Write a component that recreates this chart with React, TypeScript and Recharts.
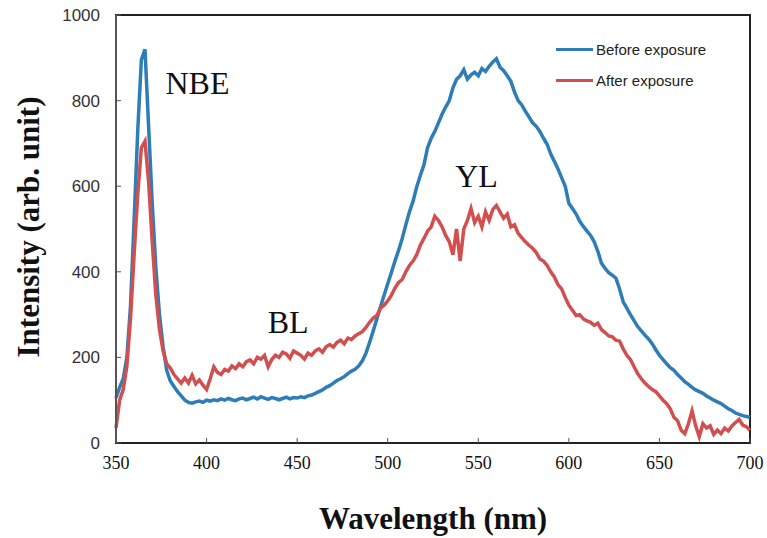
import { LineChart, Line, XAxis, YAxis, Legend, ReferenceDot, ReferenceArea, Label } from 'recharts'

const wavelengths = [
  350, 352, 354, 356, 358, 360, 362, 364, 366, 368, 370, 372, 374, 376, 378, 380, 382, 384, 386, 388,
  390, 392, 394, 396, 398, 400, 402, 404, 406, 408, 410, 412, 414, 416, 418, 420, 422, 424, 426, 428,
  430, 432, 434, 436, 438, 440, 442, 444, 446, 448, 450, 452, 454, 456, 458, 460, 462, 464, 466, 468,
  470, 472, 474, 476, 478, 480, 482, 484, 486, 488, 490, 492, 494, 496, 498, 500, 502, 504, 506, 508,
  510, 512, 514, 516, 518, 520, 522, 524, 526, 528, 530, 532, 534, 536, 538, 540, 542, 544, 546, 548,
  550, 552, 554, 556, 558, 560, 562, 564, 566, 568, 570, 572, 574, 576, 578, 580, 582, 584, 586, 588,
  590, 592, 594, 596, 598, 600, 602, 604, 606, 608, 610, 612, 614, 616, 618, 620, 622, 624, 626, 628,
  630, 632, 634, 636, 638, 640, 642, 644, 646, 648, 650, 652, 654, 656, 658, 660, 662, 664, 666, 668,
  670, 672, 674, 676, 678, 680, 682, 684, 686, 688, 690, 692, 694, 696, 698, 700,
]

const beforeExposure = [
  105, 130, 150, 200, 320, 520, 730, 895, 920, 740, 560, 410, 300, 225, 170, 145, 132, 120, 110, 100,
  95, 93, 96, 98, 95, 100, 98, 101, 99, 103, 100, 104, 101, 99, 103, 105, 101, 104, 107, 103,
  108, 105, 102, 106, 104, 101, 104, 107, 103, 106, 105, 108, 106, 110, 112, 116, 120, 124, 130, 134,
  140, 146, 150, 155, 162, 168, 172, 180, 192, 210, 235, 262, 290, 318, 345, 372, 398, 425, 450, 478,
  510, 540, 565, 598, 625, 650, 690, 712, 728, 748, 768, 785, 800, 830, 850, 858, 872, 850, 860, 866,
  858, 875, 868, 880, 890, 898, 878, 870, 858, 845, 820, 800, 790, 775, 762, 748, 740, 728, 712, 698,
  675, 658, 640, 620, 600, 560, 548, 535, 518, 506, 495, 485, 470, 448, 420, 408, 398, 392, 385, 360,
  330, 315, 300, 286, 272, 262, 252, 243, 232, 218, 205, 195, 185, 176, 170, 160, 152, 143, 137, 130,
  124, 120, 116, 110, 105, 100, 96, 92, 86, 80, 76, 70, 67, 64, 62, 60,
]

const afterExposure = [
  35, 100, 125, 180, 290, 440, 580, 690, 705, 610, 470, 345, 265, 215, 185, 175, 160, 150, 140, 152,
  140, 158, 138, 147, 135, 125, 150, 178, 165, 160, 172, 168, 180, 174, 185, 178, 190, 194, 185, 200,
  196, 205, 178, 195, 205, 200, 212, 208, 198, 215, 210, 205, 196, 210, 205, 215, 220, 212, 225, 230,
  224, 235, 240, 232, 245, 242, 250, 255, 260, 270, 282, 292, 298, 315, 322, 332, 345, 362, 375, 382,
  400, 415, 425, 440, 462, 478, 495, 505, 530, 520, 505, 485, 470, 440, 500, 425, 500, 520, 548, 515,
  530, 505, 540, 520, 545, 555, 540, 525, 535, 505, 510, 490, 480, 470, 462, 455, 445, 430, 425, 415,
  400, 388, 370, 360, 340, 322, 310, 298, 300, 290, 285, 282, 275, 280, 265, 258, 250, 248, 240, 238,
  220, 205, 195, 178, 162, 150, 140, 132, 125, 120, 110, 100, 92, 80, 60, 52, 30, 22, 45, 75,
  40, 15, 45, 35, 40, 20, 30, 22, 35, 28, 40, 48, 55, 42, 38, 30,
]

const xTicks = [350, 400, 450, 500, 550, 600, 650, 700]
const yTicks = [0, 200, 400, 600, 800, 1000]

const peakLabels = [
  { name: 'NBE', w: 395, v: 842 },
  { name: 'BL', w: 445, v: 283 },
  { name: 'YL', w: 549, v: 625 },
]

const BLUE = '#2f7db6'
const RED = '#d24f4f'
const SERIF = '"Liberation Serif", "Times New Roman", serif'
const SANS = '"Liberation Sans", Arial, sans-serif'

const data = wavelengths.map((w, i) => ({
  w,
  before: beforeExposure[i],
  after: afterExposure[i],
}))

function XTick(props: any) {
  const { x, y } = props
  const axisY = y - 8
  return (
    <g>
      <line x1={x} x2={x} y1={axisY} y2={axisY - 5} stroke="#555" strokeWidth={1} />
      <text x={x} y={axisY + 26} textAnchor="middle" fontFamily={SERIF} fontSize={18} fill="#111">
        {props.payload.value}
      </text>
    </g>
  )
}

function YTick(props: any) {
  const { x, y } = props
  const axisX = x + 8
  return (
    <g>
      <line x1={axisX} x2={axisX + 5} y1={y} y2={y} stroke="#555" strokeWidth={1} />
      <text x={axisX - 16} y={y + 6} textAnchor="end" fontFamily={SANS} fontSize={17} fill="#333">
        {props.payload.value}
      </text>
    </g>
  )
}

function LegendBox() {
  const items = [
    { label: 'Before exposure', color: BLUE },
    { label: 'After exposure', color: RED },
  ]
  return (
    <div style={{ fontFamily: SANS, fontSize: 15, color: '#222' }}>
      {items.map((it) => (
        <div key={it.label} style={{ display: 'flex', alignItems: 'center', height: 31 }}>
          <span style={{ display: 'inline-block', width: 37, height: 3, background: it.color, marginRight: 3 }} />
          <span>{it.label}</span>
        </div>
      ))}
    </div>
  )
}

export default function App() {
  return (
    <div style={{ position: 'absolute', left: 0, top: 0, background: '#fff' }}>
      <LineChart width={767} height={538} data={data} margin={{ top: 15, right: 17, bottom: 0, left: 0 }}>
        <XAxis
          dataKey="w"
          type="number"
          domain={[350, 700]}
          ticks={xTicks}
          height={95}
          tickLine={false}
          tick={<XTick />}
          axisLine={{ stroke: '#222', strokeWidth: 2 }}
        >
          <Label
            content={(p: any) => {
              const vb = p.viewBox
              return (
                <text
                  x={vb.x + vb.width / 2}
                  y={vb.y + 86}
                  textAnchor="middle"
                  fontFamily={SERIF}
                  fontWeight="bold"
                  fontSize={31}
                  fill="#111"
                >
                  Wavelength (nm)
                </text>
              )
            }}
          />
        </XAxis>
        <YAxis
          type="number"
          domain={[0, 1000]}
          ticks={yTicks}
          width={116}
          tickLine={false}
          tick={<YTick />}
          axisLine={{ stroke: '#555', strokeWidth: 2 }}
        >
          <Label
            content={(p: any) => {
              const vb = p.viewBox
              const cy = vb.y + vb.height / 2 - 2
              return (
                <text
                  x={28}
                  y={cy}
                  transform={`rotate(-90 28 ${cy})`}
                  textAnchor="middle"
                  dominantBaseline="central"
                  fontFamily={SERIF}
                  fontWeight="bold"
                  fontSize={31}
                  fill="#111"
                >
                  Intensity (arb. unit)
                </text>
              )
            }}
          />
        </YAxis>
        <ReferenceArea x1={350} x2={700} y1={0} y2={1000} fill="none" stroke="#222" strokeWidth={2} />
        <Legend
          layout="vertical"
          verticalAlign="middle"
          align="center"
          wrapperStyle={{ left: 556, top: 34, width: 'auto' }}
          content={() => <LegendBox />}
        />
        <Line dataKey="before" name="Before exposure" stroke={BLUE} strokeWidth={3.5} dot={false} isAnimationActive={false} />
        <Line dataKey="after" name="After exposure" stroke={RED} strokeWidth={3.5} dot={false} isAnimationActive={false} />
        {peakLabels.map((p) => (
          <ReferenceDot
            key={p.name}
            x={p.w}
            y={p.v}
            r={0}
            fill="none"
            stroke="none"
            label={{ value: p.name, position: 'center', fontFamily: SERIF, fontSize: 32, fill: '#111' }}
          />
        ))}
      </LineChart>
    </div>
  )
}
